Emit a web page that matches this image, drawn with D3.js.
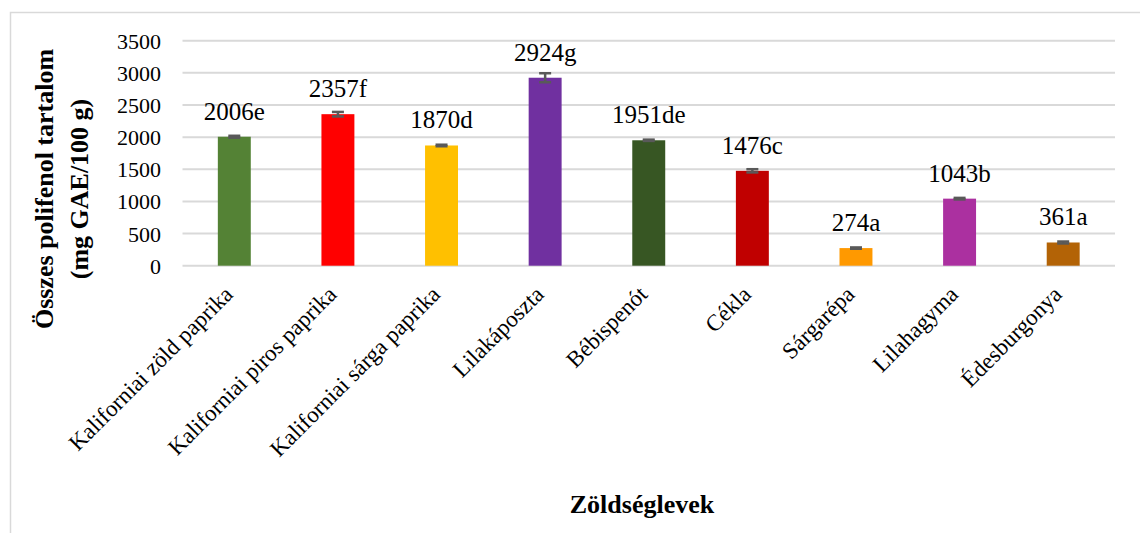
<!DOCTYPE html>
<html>
<head>
<meta charset="utf-8">
<script src="https://cdn.jsdelivr.net/npm/d3@7"></script>
<style>
  html, body { margin: 0; padding: 0; background: #fff; }
  svg { display: block; }
  svg text { font-family: "Liberation Serif", "Times New Roman", serif !important; fill: #000; }
</style>
</head>
<body>
<svg id="chart" width="1140" height="533"></svg>
<script>
const categories = ["Kaliforniai zöld paprika", "Kaliforniai piros paprika", "Kaliforniai sárga paprika", "Lilakáposzta", "Bébispenót", "Cékla", "Sárgarépa", "Lilahagyma", "Édesburgonya"];
const values = [2006, 2357, 1870, 2924, 1951, 1476, 274, 1043, 361];
const letters = ["e", "f", "d", "g", "de", "c", "a", "b", "a"];
const errors = [15, 35, 12, 70, 10, 25, 10, 12, 15];
const barColors = ["#548235", "#FF0000", "#FFC000", "#7030A0", "#375623", "#C00000", "#FF9900", "#AB30A0", "#B36306"];
const yTicks = [0, 500, 1000, 1500, 2000, 2500, 3000, 3500];
const yTitleLines = ["Összes polifenol tartalom", "(mg GAE/100 g)"];
const xTitle = "Zöldséglevek";

const serif = "'Liberation Serif', 'Times New Roman', serif";
const svg = d3.select("#chart");

// outer chart border (only top and left visible)
svg.append("rect")
  .attr("x", 10.5).attr("y", 12.5)
  .attr("width", 1200).attr("height", 600)
  .attr("fill", "none").attr("stroke", "#d9d9d9").attr("stroke-width", 1.5);

const plotL = 182.5, plotR = 1115, plotT = 40.7, plotB = 265.7;

const x = d3.scaleBand().domain(categories).range([plotL, plotR])
  .paddingInner(0.682).paddingOuter(0.341);
const y = d3.scaleLinear().domain([0, 3500]).range([plotB, plotT]);

// gridlines
svg.append("g")
  .selectAll("line").data(yTicks).join("line")
  .attr("x1", plotL).attr("x2", plotR)
  .attr("y1", d => y(d)).attr("y2", d => y(d))
  .attr("stroke", "#d9d9d9").attr("stroke-width", 2);

// y axis labels
const yAxis = d3.axisLeft(y).tickValues(yTicks).tickSize(0).tickPadding(0).tickFormat(d3.format("d"));
const yg = svg.append("g").attr("transform", `translate(161,0)`).call(yAxis);
yg.attr("font-family", serif);
yg.select(".domain").remove();
yg.selectAll("text").attr("font-size", 22).style("font-family", serif).attr("fill", "#000").attr("dy", "0.34em");

// bars
svg.append("g").selectAll("rect").data(values).join("rect")
  .attr("x", (d, i) => x(categories[i]))
  .attr("width", x.bandwidth())
  .attr("y", d => y(d))
  .attr("height", d => y(0) - y(d))
  .attr("fill", (d, i) => barColors[i]);

// error bars
const eg = svg.append("g").attr("stroke", "#595959").attr("stroke-width", 2.5);
values.forEach((v, i) => {
  const cx = x(categories[i]) + x.bandwidth() / 2;
  const e = errors[i];
  eg.append("line").attr("x1", cx).attr("x2", cx).attr("y1", y(v + e)).attr("y2", y(v - e));
  eg.append("line").attr("x1", cx - 6).attr("x2", cx + 6).attr("y1", y(v + e)).attr("y2", y(v + e));
  eg.append("line").attr("x1", cx - 6).attr("x2", cx + 6).attr("y1", y(v - e)).attr("y2", y(v - e));
});

// value labels
svg.append("g").selectAll("text").data(values).join("text")
  .attr("x", (d, i) => x(categories[i]) + x.bandwidth() / 2)
  .attr("y", d => y(d) - 17)
  .attr("text-anchor", "middle")
  .attr("font-size", 25)
  .style("font-family", serif)
  .text((d, i) => d + letters[i]);

// x axis category labels
const xAxis = d3.axisBottom(x).tickSize(0).tickPadding(0);
const xg = svg.append("g").attr("transform", `translate(0,${plotB})`).call(xAxis);
xg.attr("font-family", serif);
xg.select(".domain").remove();
xg.selectAll("text")
  .attr("font-size", 23).style("font-family", serif).attr("fill", "#000")
  .attr("text-anchor", "end")
  .attr("dy", 0).attr("y", 0)
  .attr("transform", "translate(0,30) rotate(-45)");

// y title
const yt = svg.append("text")
  .attr("transform", "translate(0,189) rotate(-90)")
  .attr("text-anchor", "middle")
  .attr("font-weight", "bold")
  .attr("font-size", 26)
  .style("font-family", serif);
yt.append("tspan").attr("x", 0).attr("y", 53).text(yTitleLines[0]);
yt.append("tspan").attr("x", 0).attr("y", 88).text(yTitleLines[1]);

// x title
svg.append("text")
  .attr("x", 642).attr("y", 513)
  .attr("text-anchor", "middle")
  .attr("font-weight", "bold")
  .attr("font-size", 26)
  .style("font-family", serif)
  .text(xTitle);
</script>
</body>
</html>
